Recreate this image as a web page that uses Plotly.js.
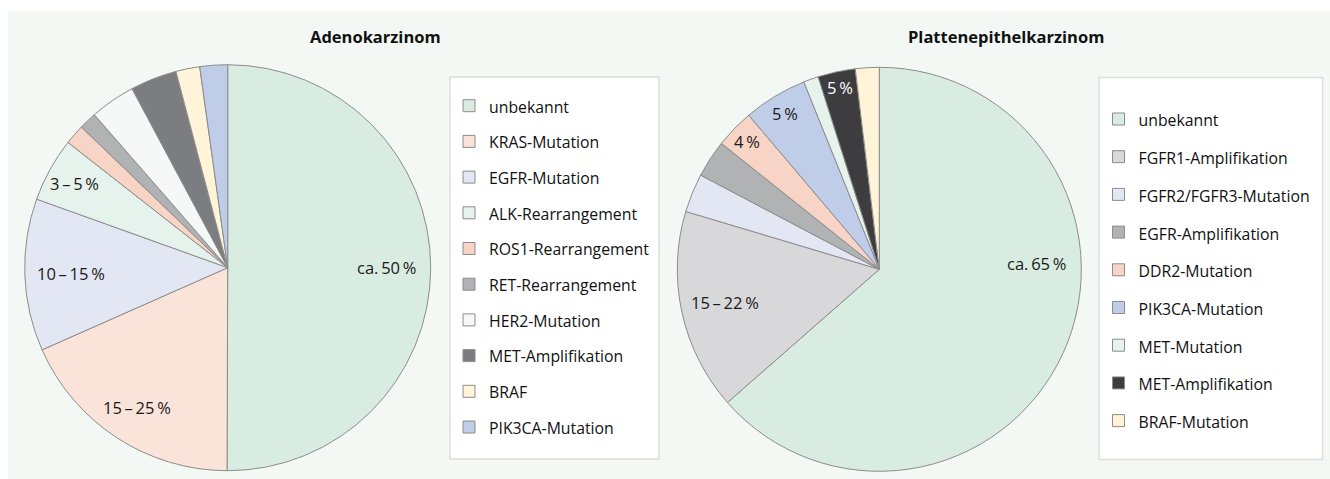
<!DOCTYPE html>
<html><head><meta charset="utf-8">
<script src="https://cdn.plot.ly/plotly-3.0.1.min.js"></script>
<style>html,body{margin:0;padding:0;background:#fff}#chart{width:1330px;height:479px}</style>
</head><body><div id="chart"></div>
<script>
// ---- data ----
const adenoTitle = 'Adenokarzinom';
const adenoCategories = ['unbekannt','KRAS-Mutation','EGFR-Mutation','ALK-Rearrangement','ROS1-Rearrangement','RET-Rearrangement','HER2-Mutation','MET-Amplifikation','BRAF','PIK3CA-Mutation'];
const adenoValues = [50, 18.3, 12.1, 5.1, 1.6, 1.4, 3.6, 3.7, 1.9, 2.2];
const adenoLabels = ['ca.\u200950\u2009%','15\u2009\u2013\u200925\u2009%','10\u2009\u2013\u200915\u2009%','3\u2009\u2013\u20095\u2009%','','','','','',''];

const plattenTitle = 'Plattenepithelkarzinom';
const plattenCategories = ['unbekannt','FGFR1-Amplifikation','FGFR2/FGFR3-Mutation','EGFR-Amplifikation','DDR2-Mutation','PIK3CA-Mutation','MET-Mutation','MET-Amplifikation','BRAF-Mutation'];
const plattenValues = [63.6, 16.1, 3.1, 3.0, 3.1, 5.1, 1.2, 3.0, 1.9];
const plattenLabels = ['ca.\u200965\u2009%','15\u2009\u2013\u200922\u2009%','','','4\u2009%','5\u2009%','','5\u2009%',''];

// ---- style ----
const W = 1330, H = 479;
const FONT = '"Open Sans", "Noto Sans", sans-serif';
const adenoColors = ['#d9ece2','#fae3d9','#e3e7f3','#e6f2ec','#f8d4c6','#b1b2b4','#f5f8f6','#7c7d80','#fff3d8','#bfcde8'];
const plattenColors = ['#d9ece2','#d8d8da','#e3e7f3','#b1b2b4','#f8d4c6','#bfcde8','#e6f2ec','#3d3d40','#fff3d8'];
const adenoTextColors = ['#1a1a1a','#1a1a1a','#1a1a1a','#1a1a1a','#1a1a1a','#1a1a1a','#1a1a1a','#1a1a1a','#1a1a1a','#1a1a1a'];
const plattenTextColors = ['#1a1a1a','#1a1a1a','#1a1a1a','#1a1a1a','#1a1a1a','#1a1a1a','#1a1a1a','#ffffff','#1a1a1a'];
// label placement: radial fraction, optional angle override (deg clockwise from top)
const adenoLabelPos = [[0.78,null],[0.82,null],[0.77,null],[0.86,null],null,null,null,null,null,null];
const plattenLabelPos = [[0.78,88],[0.78,null],null,null,[0.91,null],[0.90,null],null,[0.92,null],null];

const pieA = {cx: 227.7, cy: 267.7, r: 203};
const pieB = {cx: 879.3, cy: 269.3, r: 202};

function domainOf(p){
  return {x:[(p.cx-p.r)/W,(p.cx+p.r)/W], y:[1-(p.cy+p.r)/H, 1-(p.cy-p.r)/H]};
}
// legend entries (distinct markup per legend so shared names are not merged across the two pies)
function legendLabels(cats, tag){ return cats.map(c => '<span style="font-size:15.8px;baseline-shift:3px" data-l="'+tag+'">'+c+'</span>'); }

function labelAnnotations(values, labels, pos, colors, p){
  const total = values.reduce((a,b)=>a+b,0);
  let cum = 0; const out = [];
  values.forEach((v,i)=>{
    const start = cum/total*360; cum += v; const end = cum/total*360;
    if(labels[i] && pos[i]){
      const ang = (pos[i][1]!=null ? pos[i][1] : (start+end)/2) * Math.PI/180;
      const rr = p.r*pos[i][0];
      const px = p.cx + rr*Math.sin(ang), py = p.cy - rr*Math.cos(ang);
      out.push({xref:'paper', yref:'paper', x:px/W, y:1-py/H, xanchor:'center', yanchor:'middle',
        text: labels[i], showarrow:false, font:{family:FONT, size:16.5, color:colors[i]}});
    }
  });
  return out;
}

const labsA = legendLabels(adenoCategories, 'a');
const labsB = legendLabels(plattenCategories, 'b');

const traces = [
  {type:'pie', labels: labsA, values: adenoValues, sort:false, direction:'clockwise', rotation:0,
   domain: domainOf(pieA), textinfo:'none', hoverinfo:'skip',
   marker:{colors: adenoColors, line:{color:'#8c8c8c', width:1}}, legend:'legend', showlegend:true},
  {type:'pie', labels: labsB, values: plattenValues, sort:false, direction:'clockwise', rotation:0,
   domain: domainOf(pieB), textinfo:'none', hoverinfo:'skip',
   marker:{colors: plattenColors, line:{color:'#8c8c8c', width:1}}, legend:'legend2', showlegend:true}
];

const hA = 35.7, hB = 37.7;
const layout = {
  width: W, height: H, margin:{l:0,r:0,t:0,b:0}, paper_bgcolor:'#ffffff', plot_bgcolor:'rgba(0,0,0,0)',
  font:{family:FONT, color:'#1a1a1a'},
  showlegend:true,
  legend:{x:449/W, xanchor:'left', y:1-(105.7-hA/2-5)/H, yanchor:'top', bgcolor:'rgba(0,0,0,0)', borderwidth:0,
    font:{family:FONT, size:(hA-3)/1.3, color:'#111111'}, itemclick:false, itemdoubleclick:false},
  legend2:{x:1098.5/W, xanchor:'left', y:1-(119-hB/2-5)/H, yanchor:'top', bgcolor:'rgba(0,0,0,0)', borderwidth:0,
    font:{family:FONT, size:(hB-3)/1.3, color:'#111111'}, itemclick:false, itemdoubleclick:false},
  shapes:[
    {type:'rect', xref:'paper', yref:'paper', x0:8/W, x1:1, y0:0, y1:1-11/H, fillcolor:'#f3f8f5', line:{width:0}, layer:'below'},
    {type:'rect', xref:'paper', yref:'paper', x0:450/W, x1:659/W, y0:1-459/H, y1:1-77/H, fillcolor:'#ffffff', line:{color:'#dcdedc', width:1.5}, layer:'below'},
    {type:'rect', xref:'paper', yref:'paper', x0:1099/W, x1:1322.5/W, y0:1-459.5/H, y1:1-77.5/H, fillcolor:'#ffffff', line:{color:'#dcdedc', width:1.5}, layer:'below'}
  ],
  annotations: [
    {xref:'paper', yref:'paper', x:375.5/W, y:1-36.5/H, xanchor:'center', yanchor:'middle', showarrow:false,
     text:'<b>'+adenoTitle+'</b>', font:{family:FONT, size:16.5, color:'#111111'}},
    {xref:'paper', yref:'paper', x:1006.3/W, y:1-36.5/H, xanchor:'center', yanchor:'middle', showarrow:false,
     text:'<b>'+plattenTitle+'</b>', font:{family:FONT, size:16.5, color:'#111111'}}
  ].concat(labelAnnotations(adenoValues, adenoLabels, adenoLabelPos, adenoTextColors, pieA))
   .concat(labelAnnotations(plattenValues, plattenLabels, plattenLabelPos, plattenTextColors, pieB))
};

Plotly.newPlot('chart', traces, layout, {displayModeBar:false, staticPlot:true});
</script>
</body></html>
